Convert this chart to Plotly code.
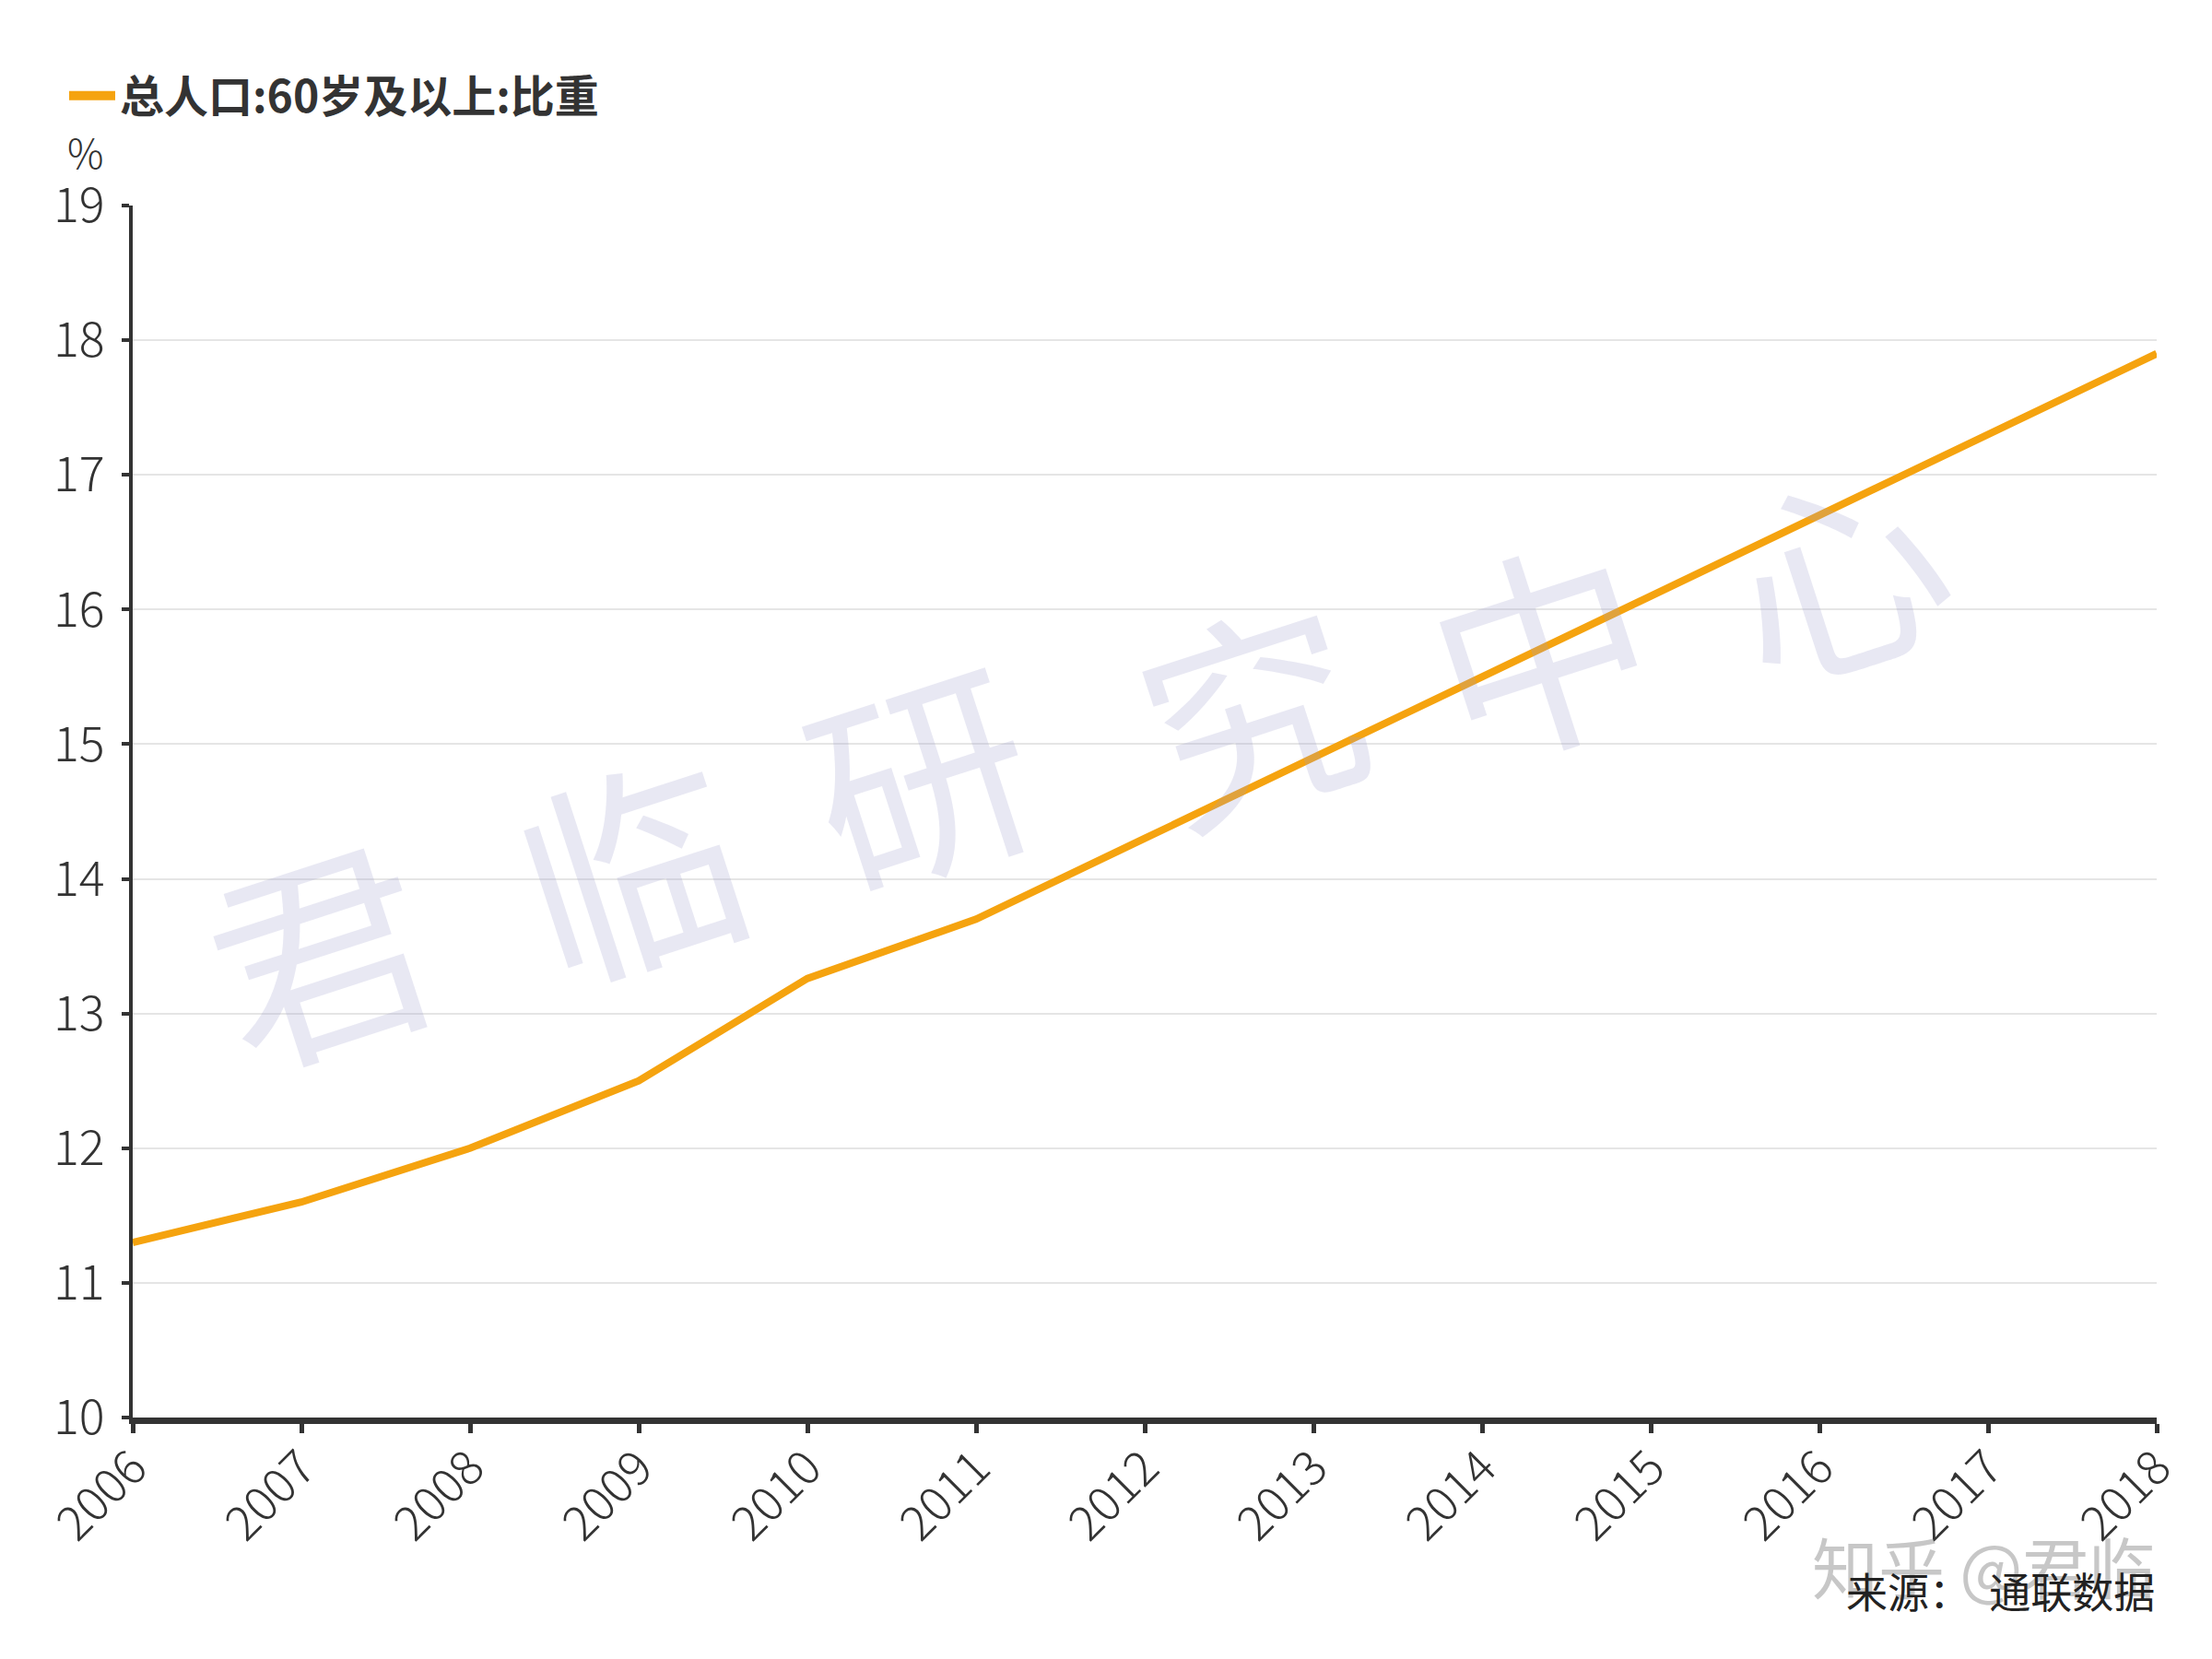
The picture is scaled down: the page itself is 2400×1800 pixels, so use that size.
import plotly.graph_objects as go

years = ["2006", "2007", "2008", "2009", "2010", "2011", "2012",
         "2013", "2014", "2015", "2016", "2017", "2018"]
share_60_plus = [11.3, 11.6, 12.0, 12.5, 13.26, 13.7, 14.3,
                 14.9, 15.5, 16.1, 16.7, 17.3, 17.9]
series_name = "总人口:60岁及以上:比重"
y_ticks = [10, 11, 12, 13, 14, 15, 16, 17, 18, 19]
watermark_chars = ["君", "临", "研", "究", "中", "心"]

W, H = 2400, 1800
OFF = 8  # page body margin
L, R, T, B = 144 - OFF, 60 + OFF, 223 - OFF, 262 + OFF
PW, PH = W - L - R, H - T - B

def px(x):  # x in reference-page pixels -> paper
    return (x - OFF - L) / PW

def py(y):
    return (H - B - (y - OFF)) / PH

fig = go.Figure()
fig.add_trace(go.Scatter(
    x=list(range(len(years))), y=share_60_plus, mode="lines",
    name=series_name, showlegend=False,
    line=dict(color="#F5A30F", width=8),
))
fig.add_trace(go.Scatter(
    x=[None], y=[None], mode="lines",
    name="<b>" + series_name + "</b>", showlegend=True,
    line=dict(color="#F5A30F", width=10),
))

fig.update_layout(
    width=W, height=H,
    margin=dict(l=L, r=R, t=T, b=B),
    paper_bgcolor="white", plot_bgcolor="white",
    font=dict(family="Noto Sans CJK SC", color="#333333"),
    showlegend=True,
    legend=dict(orientation="h", x=px(70), y=py(104), xanchor="left", yanchor="middle",
                font=dict(size=48, color="#333333", family="Noto Sans CJK SC"),
                itemwidth=50, bgcolor="rgba(0,0,0,0)"),
    xaxis=dict(
        range=[0, len(years) - 1],
        tickmode="array", tickvals=list(range(len(years))), ticktext=years,
        tickangle=-45, tickfont=dict(size=52, color="#333333", weight=300),
        ticklabelstandoff=-14,
        showline=True, linecolor="#333333", linewidth=7,
        ticks="outside", ticklen=10, tickwidth=5, tickcolor="#333333",
        showgrid=False, zeroline=False,
    ),
    yaxis=dict(
        range=[10, 19], tickvals=y_ticks,
        tickfont=dict(size=52, color="#333333", weight=300),
        ticklabelstandoff=8,
        showline=True, linecolor="#333333", linewidth=4,
        ticks="outside", ticklen=8, tickwidth=4, tickcolor="#333333",
        showgrid=True, gridcolor="#E5E5E5", gridwidth=2,
        zeroline=False,
    ),
)

anns = []
wm_pos = [(344, 1025), (681, 934), (995, 834), (1355, 765), (1668, 696), (1990, 612)]
for ch, (cx, cy) in zip(watermark_chars, wm_pos):
    anns.append(dict(text=ch, x=px(cx), y=py(cy), xref="paper", yref="paper",
                     xanchor="center", yanchor="middle",
                     showarrow=False, textangle=-18,
                     font=dict(size=235, color="rgba(160,160,205,0.24)",
                               family="Noto Sans CJK SC")))
anns.append(dict(text="%", x=px(92), y=py(164), xref="paper", yref="paper",
                 xanchor="center", yanchor="middle",
                 showarrow=False, font=dict(size=44, color="#333333", weight=300)))
anns.append(dict(text="知乎 @君临", x=px(2340), y=py(1697), xref="paper", yref="paper",
                 xanchor="right", yanchor="middle", showarrow=False,
                 font=dict(size=72, color="rgba(175,175,175,0.7)")))
anns.append(dict(text="来源：  通联数据", x=px(2340), y=py(1725), xref="paper", yref="paper",
                 xanchor="right", yanchor="middle", showarrow=False,
                 font=dict(size=45, color="#222222")))
fig.update_layout(annotations=anns)

fig.write_html("out.html")
